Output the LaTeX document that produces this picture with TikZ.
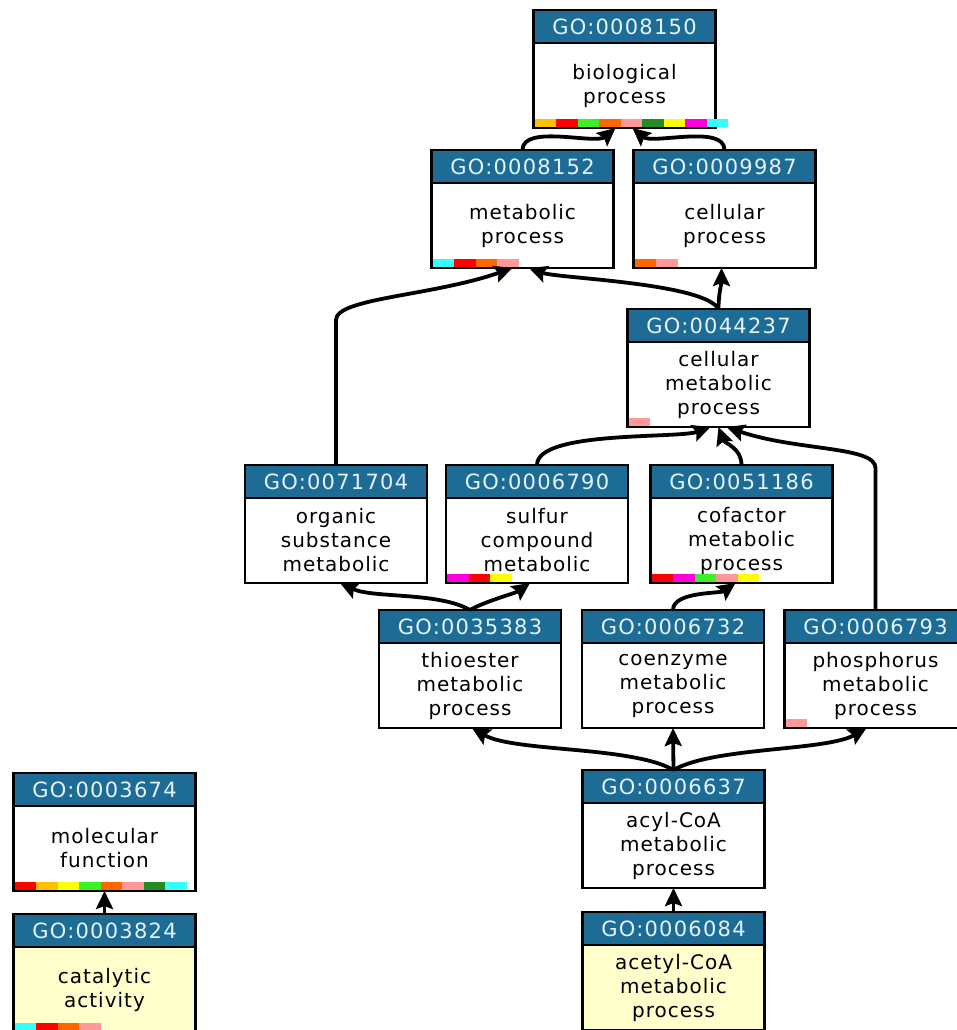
\documentclass[tikz,border=0pt]{standalone}
\usepackage{fontspec}
\usepackage{tikz}
\usetikzlibrary{positioning,arrows.meta}

\newfontfamily\termfont[LetterSpace=5]{DejaVu Sans}
\newfontfamily\idfont[LetterSpace=6]{DejaVu Sans}

\definecolor{goblue}{RGB}{29,108,150}
\definecolor{headtext}{RGB}{228,242,250}
\definecolor{leafyellow}{RGB}{255,255,204}
% annotation colours
\definecolor{annGold}{RGB}{255,192,0}
\definecolor{annRed}{RGB}{255,0,0}
\definecolor{annGreen}{RGB}{60,240,40}
\definecolor{annOrange}{RGB}{255,102,0}
\definecolor{annPink}{RGB}{255,153,153}
\definecolor{annDkGreen}{RGB}{34,139,34}
\definecolor{annYellow}{RGB}{255,255,0}
\definecolor{annMagenta}{RGB}{255,0,220}
\definecolor{annCyan}{RGB}{51,255,255}

\tikzset{
  termbody/.style = {shape=rectangle, draw, line width=2.2pt, outer sep=0pt,
                     fill=white, text=black, align=center,
                     minimum width=182pt, minimum height=85pt, inner sep=0pt,
                     font=\termfont\fontsize{20}{24}\selectfont},
  termhead/.style = {termbody, fill=goblue, text=headtext, minimum height=33pt,
                     font=\idfont\fontsize{21}{24}\selectfont},
  leaf/.style     = {termbody, fill=leafyellow},
  isa/.style      = {-{Stealth[length=18pt,width=17pt,inset=3pt]}, line width=3.8pt}
}
% body node, then the id header sitting on top of it
\newcommand{\goterm}[5][termbody]{%
  \node[#1] (#2) at (#3) {#5};
  \node[termhead, above=0pt of #2] (#2-id) {#4};
}
% strip of coloured blocks along the bottom of a term
\newcommand{\annot}[2]{%
  \foreach \col [count=\i from 0] in {#2} {
    \fill[fill=\col] ([xshift=\i*21.5pt+1pt, yshift=1.1pt]#1.south west) rectangle ++(21.5,8);
  }
}

\begin{document}
\begin{tikzpicture}[x=1pt, y=1pt]
  \useasboundingbox (0,0) rectangle (957,-1030);

  \goterm{bp}{624.5,-85.5}{GO:0008150}{biological\\process}
  \goterm{mp}{522.5,-225.5}{GO:0008152}{metabolic\\process}
  \goterm{cp}{724.5,-225.5}{GO:0009987}{cellular\\process}
  \goterm{cmp}{718.5,-384.5}{GO:0044237}{cellular\\metabolic\\process}
  \goterm{osmp}{336,-540.5}{GO:0071704}{organic\\substance\\metabolic}
  \goterm{scmp}{537,-540.5}{GO:0006790}{sulfur\\compound\\metabolic}
  \goterm{cofmp}{741.5,-540.5}{GO:0051186}{cofactor\\metabolic\\process}
  \goterm{thio}{470,-685.5}{GO:0035383}{thioester\\metabolic\\process}
  \goterm{coenz}{673,-685.5}{GO:0006732}{coenzyme\\metabolic\\process}
  \goterm{phos}{875.5,-685.5}{GO:0006793}{phosphorus\\metabolic\\process}
  \goterm{acyl}{673.5,-845.5}{GO:0006637}{acyl-CoA\\metabolic\\process}
  \goterm[leaf]{acetyl}{673.5,-987.5}{GO:0006084}{acetyl-CoA\\metabolic\\process}
  \goterm{molf}{104.5,-848.5}{GO:0003674}{molecular\\function}
  \goterm[leaf]{catal}{104.5,-989.5}{GO:0003824}{catalytic\\activity}

  \annot{bp}{annGold,annRed,annGreen,annOrange,annPink,annDkGreen,annYellow,annMagenta,annCyan}
  \annot{mp}{annCyan,annRed,annOrange,annPink}
  \annot{cp}{annOrange,annPink}
  \annot{cmp}{annPink}
  \annot{scmp}{annMagenta,annRed,annYellow}
  \annot{cofmp}{annRed,annMagenta,annGreen,annPink,annYellow}
  \annot{phos}{annPink}
  \annot{molf}{annRed,annGold,annYellow,annGreen,annOrange,annPink,annDkGreen,annCyan}
  \annot{catal}{annCyan,annRed,annOrange,annPink}

  \path[every edge/.append style={isa}]
    (mp-id.north)  edge[out=90, in=-140, looseness=0.7] ([xshift=-9pt]bp.south)
    (cp-id.north)  edge[out=90, in=-40, looseness=0.7]  ([xshift=8pt]bp.south)
    (cmp-id.north) edge[out=120, in=-20, looseness=0.4] ([xshift=6.5pt]mp.south)
    (cmp-id.north) edge[out=90, in=-90]                 ([xshift=-3pt]cp.south)
    (scmp-id.north) edge[out=90, in=-160, looseness=0.5] ([xshift=-8pt]cmp.south)
    (cofmp-id.north) edge[out=90, in=-70]               (cmp.south)
    (thio-id.north) edge[out=150, in=-25, looseness=0.7] ([xshift=4pt]osmp.south)
    (thio-id.north) edge[out=30, in=-145, looseness=0.7] ([xshift=-7pt]scmp.south)
    (coenz-id.north) edge[out=90, in=-145, looseness=0.7] ([xshift=-6pt]cofmp.south)
    (acyl-id.north) edge[out=150, in=-30, looseness=0.6] ([xshift=2pt]thio.south)
    (acyl-id.north) edge[out=30, in=-150, looseness=0.6] ([xshift=-9pt]phos.south)
    \foreach \x/\y in {acyl/coenz, acetyl/acyl, catal/molf} {
      (\x-id.north) edge (\y.south)
    };

  % long links run straight up first
  \draw[isa] (osmp-id.north) -- ++(0,145)
    .. controls +(0,22) and +(-80,-28) .. ([xshift=-10pt]mp.south);
  \draw[isa] (phos-id.north) -- ++(0,142)
    .. controls +(0,22) and +(70,-24) .. ([xshift=8pt]cmp.south);
\end{tikzpicture}
\end{document}
